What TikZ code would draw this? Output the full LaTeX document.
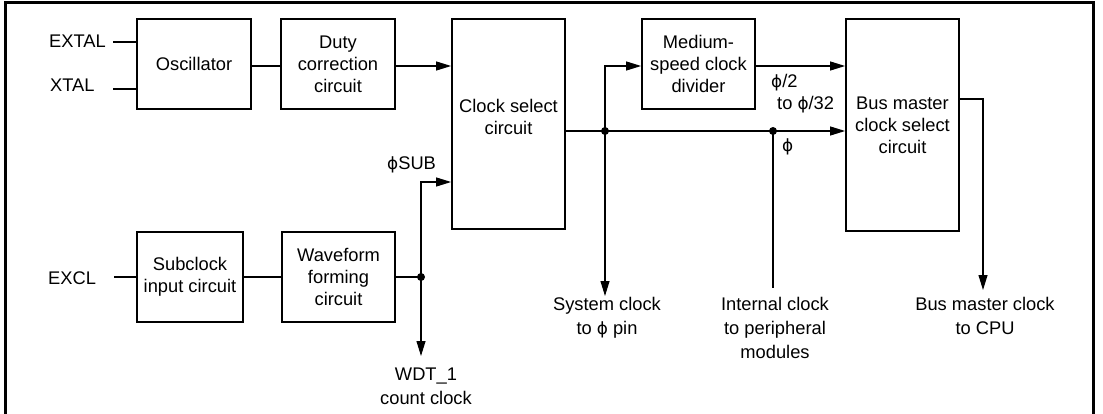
\documentclass[tikz,border=0pt]{standalone}
\usepackage{fontspec}
\setmainfont{Liberation Sans}
\newfontfamily\phifont[Scale=0.92]{DejaVu Sans}
\newcommand{\myphi}{{\phifont ϕ}}
\usetikzlibrary{arrows.meta}
\begin{document}
\begin{tikzpicture}[x=1pt,y=-1pt,
  font=\fontsize{18.3pt}{22pt}\selectfont,
  blk/.style={draw, line width=1.8pt, inner sep=0pt, align=center},
  conn/.style={line width=1.1pt},
  arr/.style={conn, -{Triangle[length=15pt,width=9pt]}},
  dot/.style={circle, fill, inner sep=0pt, minimum size=8pt},
  txt/.style={inner sep=0pt, align=center},
  btxt/.style={txt, anchor=north, font=\fontsize{18.3pt}{24pt}\selectfont}]
\useasboundingbox (0,0) rectangle (1103,414);
% frame
\draw[line width=3pt] (5,414) -- (5,3) -- (1093.5,3) -- (1093.5,414);
% blocks
\node[blk, minimum width=114pt, minimum height=90pt] (osc) at (194,64) {Oscillator};
\node[blk, minimum width=114pt, minimum height=90pt] (duty) at (338,64) {Duty\\correction\\circuit};
\node[blk, minimum width=113pt, minimum height=210pt,
      label={[txt,yshift=7pt]center:{Clock select\\circuit}}] (cs) at (508.5,124) {};
\node[blk, minimum width=113pt, minimum height=90pt] (med) at (698.5,64) {Medium-\\speed clock\\divider};
\node[blk, minimum width=113pt, minimum height=212pt] (bm) at (902.5,125) {Bus master\\clock select\\circuit};
\node[blk, minimum width=106pt, minimum height=90pt] (sub) at (190,277) {Subclock\\input circuit};
\node[blk, minimum width=113pt, minimum height=90pt] (wave) at (338.5,277) {Waveform\\forming\\circuit};
% helper coordinates
\coordinate (exa) at (113,42);
\coordinate (xta) at (113,89);
\coordinate (exc) at (114,277);
\coordinate (topY) at (0,66);
\coordinate (phisubY) at (0,182);
\coordinate (csoutY) at (0,131);
\coordinate (bmY) at (0,99);
\coordinate (wdt) at (421,356);
\coordinate (sysclk) at (605,296);
\coordinate (intclk) at (773,288);
\coordinate (cpu) at (983,290);
\node[dot] (d1) at (421,277) {};
\node[dot] (d2) at (605,131) {};
\node[dot] (d3) at (773,131) {};
% connectors
\draw[conn] (exa) -- (exa -| osc.west);
\draw[conn] (xta) -- (xta -| osc.west);
\draw[conn] (exc) -- (exc -| sub.west);
\draw[conn] (osc.east |- topY) -- (duty.west |- topY);
\draw[arr] (duty.east |- topY) -- (cs.west |- topY);
\draw[conn] (sub.east) -- (wave.west);
\draw[conn] (wave.east) -- (d1.center);
\draw[arr] (d1.center) -- (wdt);
\draw[arr] (d1.center) |- (cs.west |- phisubY);
\draw[conn] (cs.east |- csoutY) -- (d2.center) -- (d3.center);
\draw[arr] (d3.center) -- (bm.west |- csoutY);
\draw[arr] (d2.center) |- (med.west |- topY);
\draw[arr] (med.east |- topY) -- (bm.west |- topY);
\draw[arr] (d2.center) -- (sysclk);
\draw[conn] (d3.center) -- (intclk);
\draw[arr] (bm.east |- bmY) -| (cpu);
% labels
\node[txt, anchor=base east] (lextal) at (106,48) {EXTAL};
\node[txt, anchor=base west] (lxtal) at (50,92) {XTAL};
\node[txt, anchor=base west] (lexcl) at (48,284) {EXCL};
\node[txt, anchor=base west] (lsub) at (387,170) {\myphi SUB};
\node[txt, anchor=base west] (lp2) at (771,88) {\myphi/2};
\node[txt, anchor=base west] (lp32) at (777,110) {to \myphi/32};
\node[txt, anchor=base west] (lphi) at (782,152) {\myphi};
\node[btxt] (lsys) at (607,297) {System clock\\to \myphi{} pin};
\node[btxt] (lint) at (775,297) {Internal clock\\to peripheral\\modules};
\node[btxt] (lcpu) at (985,297) {Bus master clock\\to CPU};
\node[btxt] (lwdt) at (426,368) {WDT\_1\\count clock};
\end{tikzpicture}
\end{document}
